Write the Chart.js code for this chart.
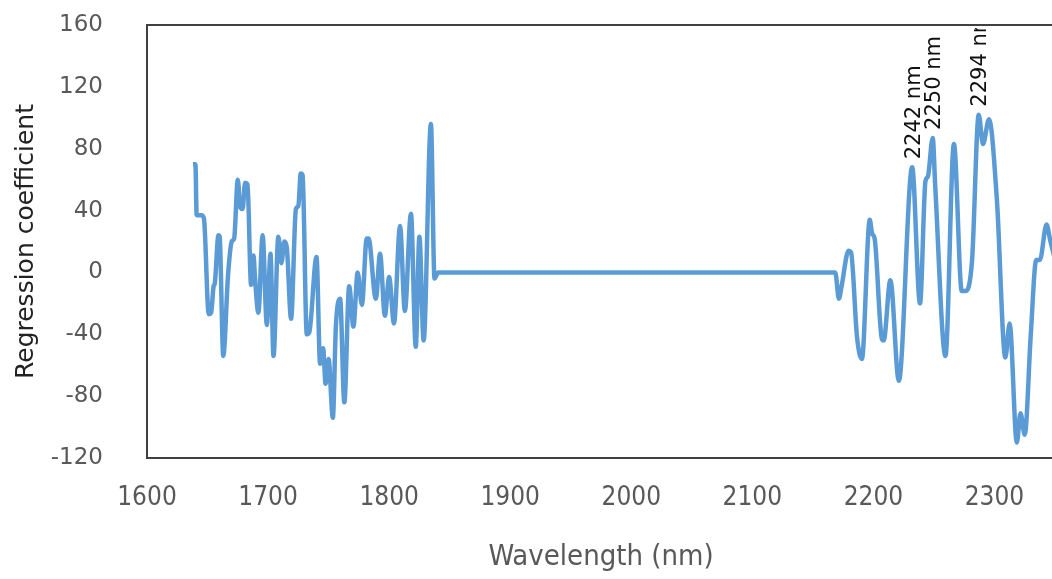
<!DOCTYPE html>
<html>
<head>
<meta charset="utf-8">
<script src="https://cdn.jsdelivr.net/npm/chart.js@4.4.1/dist/chart.umd.min.js"></script>
<style>
    html, body { margin: 0; padding: 0; background: #fff; overflow: hidden; }
    #wrap { width: 1100px; height: 579px; }
</style>
</head>
<body>
<div id="wrap"><canvas id="chart"></canvas></div>
<script>
// wavelength (nm) and regression coefficient
var wavelengths = [
    1638, 1640, 1641, 1645, 1647, 1651, 1653, 1655, 1656, 1659, 1660, 1663, 1667, 1670, 1672,
    1675, 1677, 1679, 1681, 1683, 1686, 1688, 1689, 1692, 1695.5, 1699, 1702, 1704.5, 1708.5,
    1711, 1713.5, 1715.5, 1719, 1723, 1725, 1727, 1728.5, 1732, 1734, 1740, 1743, 1745.5,
    1747.5, 1750, 1753.5, 1756, 1759.5, 1763, 1767, 1770.5, 1774, 1777.5, 1781.5, 1783, 1789,
    1792.5, 1796.5, 1800, 1804, 1809, 1813, 1818, 1822, 1825, 1828.5, 1834.5, 1837.5, 1840.5,
    2168.5, 2171.5, 2173.5, 2179.5, 2181.5, 2186.5, 2190.5, 2197, 2199, 2201, 2207, 2208.5,
    2214, 2221, 2232, 2238.5, 2243, 2245, 2249, 2251, 2259.5, 2266.5, 2273, 2276, 2281.5,
    2287, 2290.5, 2295.5, 2302, 2309, 2312.5, 2318.5, 2321.5, 2325, 2330, 2334.5, 2337.5,
    2343, 2346, 2352
];
var coefficients = [
    70, 70, 37, 37, 35, -27, -26, -9, -7, 24, 23, -54, -1, 20, 22,
    60, 42, 41, 58, 57, -8, 11, -1, -26, 24, -34, 12, -54, 23,
    6, 20, 16, -30, 41, 43, 64, 63, -40, -39, 10, -59, -49,
    -72, -56, -94, -35, -17, -84, -9, -35, 0, -21, 22, 22, -17,
    12, -28, -3, -33, 30, -25, 38, -48, 23, -44, 96, -4, 0,
    0, -17, -10, 14, 13, -42, -56, 34, 25, 22, -43, -44,
    -5, -70, 68, -20, 59, 62, 87, 57, -54, 83, -12, -12, 8,
    102, 83, 99, 47, -55, -33, -110, -91, -105, -40, 8, 8,
    31, 21, 2
];

// labelled peaks: text and the index of the point they sit on
var peakLabels = ['2242 nm', '2250 nm', '2294 nm'];
var peakIndex = [82, 86, 93];

var xTicks = { min: 1600, max: 2350, step: 100 };
var yTicks = { min: -120, max: 160, step: 40 };

var points = [];
for(var i = 0; i < wavelengths.length; i++) {
    points.push({x: wavelengths[i], y: coefficients[i]});
}

var grey = '#595959';

// frame round the plot area
var frame = {
    id: 'frame',
    afterDraw: function(chart) {
        var a = chart.chartArea;
        var ctx = chart.ctx;
        ctx.save();
        ctx.strokeStyle = '#404040';
        ctx.lineWidth = 2;
        ctx.strokeRect(a.left, a.top, a.right - a.left, a.bottom - a.top);
        ctx.restore();
    }
};

// rotated wavelength labels above the peaks
var peaks = {
    id: 'peaks',
    afterDatasetsDraw: function(chart) {
        var a = chart.chartArea;
        var ctx = chart.ctx;
        var xs = chart.scales.x;
        var ys = chart.scales.y;
        ctx.save();
        ctx.beginPath();
        ctx.rect(a.left, a.top + 3, a.right - a.left, a.bottom - a.top);
        ctx.clip();
        ctx.font = '21px "DejaVu Sans"';
        ctx.fillStyle = '#111';
        ctx.textAlign = 'left';
        ctx.textBaseline = 'middle';
        for(var i = 0; i < peakLabels.length; i++) {
            var k = peakIndex[i];
            var px = xs.getPixelForValue(wavelengths[k]);
            var py = ys.getPixelForValue(coefficients[k]);
            ctx.save();
            ctx.translate(px + 2, py - 8);
            ctx.rotate(-Math.PI / 2);
            ctx.fillText(peakLabels[i], 0, 0);
            ctx.restore();
        }
        ctx.restore();
    }
};

new Chart(document.getElementById('chart'), {
    type: 'line',
    data: {
        datasets: [{
            data: points,
            borderColor: '#5B9BD5',
            borderWidth: 4.5,
            pointRadius: 0,
            tension: 0.35,
            cubicInterpolationMode: 'monotone',
            fill: false,
        }]
    },
    options: {
        responsive: true,
        maintainAspectRatio: false,
        animation: false,
        layout: { padding: { left: 0, top: 25, right: 45, bottom: 0 } },
        plugins: {
            legend: { display: false },
            tooltip: { enabled: false },
        },
        scales: {
            x: {
                type: 'linear',
                min: xTicks.min,
                max: xTicks.max,
                grid: { display: false, drawTicks: false },
                border: { display: false },
                ticks: {
                    stepSize: xTicks.step,
                    includeBounds: false,
                    padding: 25,
                    color: grey,
                    maxRotation: 0,
                    font: { family: '"DejaVu Sans Condensed", "DejaVu Sans"', size: 26 },
                    callback: function(v) { return String(v); },
                },
                title: {
                    display: true,
                    text: 'Wavelength (nm)',
                    color: grey,
                    padding: { top: 0, bottom: 4 },
                    font: { family: '"DejaVu Sans Condensed", "DejaVu Sans"', size: 29 },
                },
                afterFit: function(scale) { scale.height = 121; },
            },
            y: {
                min: yTicks.min,
                max: yTicks.max,
                // invisible tick marks keep the labels away from the frame
                grid: { display: true, drawOnChartArea: false, drawTicks: true, tickLength: 36, tickColor: 'rgba(0,0,0,0)' },
                border: { display: false },
                ticks: {
                    stepSize: yTicks.step,
                    padding: 8,
                    color: grey,
                    font: { family: '"DejaVu Sans"', size: 23 },
                },
                title: {
                    display: true,
                    text: 'Regression coefficient',
                    color: '#222',
                    padding: { top: 11, bottom: 0 },
                    font: { family: '"DejaVu Sans"', size: 25 },
                },
                afterFit: function(scale) { scale.width = 147; },
            },
        },
    },
    plugins: [frame, peaks],
});
</script>
</body>
</html>
